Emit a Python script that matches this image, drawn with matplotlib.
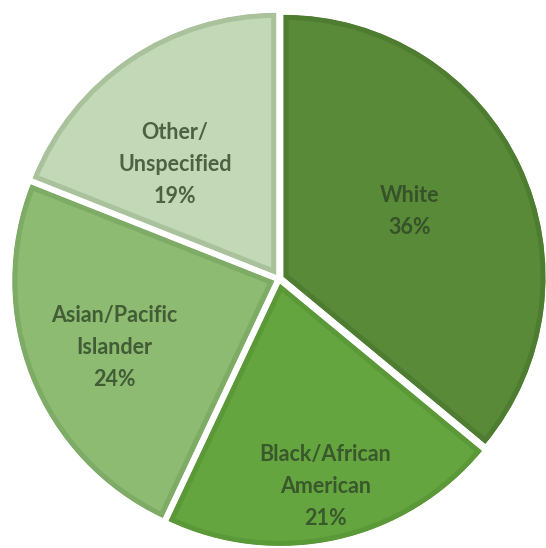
import matplotlib
matplotlib.use("Agg")
import matplotlib.pyplot as plt
import numpy as np

# slice data, clockwise from 12 o'clock
labels = ["White", "Black/African\nAmerican", "Asian/Pacific\nIslander", "Other/\nUnspecified"]
shares = [36, 21, 24, 19]
fills = ["#588a38", "#65a53f", "#8dbb72", "#c2d8b6"]
borders = ["#4e7c30", "#5a9838", "#7eab65", "#a9c29c"]
# label placement relative to each wedge: (angle shift in deg, distance / radius)
label_pos = [(2, 0.56), (0, 0.81), (1, 0.68), (8, 0.59)]

fig = plt.figure(figsize=(5.46, 5.48), dpi=100)
ax = fig.add_axes([0, 0, 1, 1])

radius = 262
cx, cy = 279, 548 - 279

wedges, _ = ax.pie(shares, colors=fills, startangle=90, counterclock=False,
                   radius=radius, center=(cx, cy), explode=[5] * 4,
                   wedgeprops=dict(edgecolor="none"))

# pie() resets the limits, so set pixel-sized limits afterwards
ax.set_xlim(0, 546)
ax.set_ylim(0, 548)
ax.set_aspect("equal")
ax.axis("off")

for w, bc, lab, pct, (shift, d) in zip(wedges, borders, labels, shares, label_pos):
    # inner border: stroke clipped to the wedge itself
    w.set_edgecolor(bc)
    w.set_linewidth(7.2)
    w.set_clip_on(True)
    w.set_clip_path(w)
    mid = np.deg2rad((w.theta1 + w.theta2) / 2 + shift)
    x = cx + d * radius * np.cos(mid)
    y = cy + d * radius * np.sin(mid)
    ax.text(x, y, f"{lab}\n{pct}%", ha="center", va="center",
            fontsize=15.5, fontweight="bold", family="Lato",
            color="#2f4526", alpha=0.8, linespacing=1.65)

fig.savefig("out.png", dpi=100)
